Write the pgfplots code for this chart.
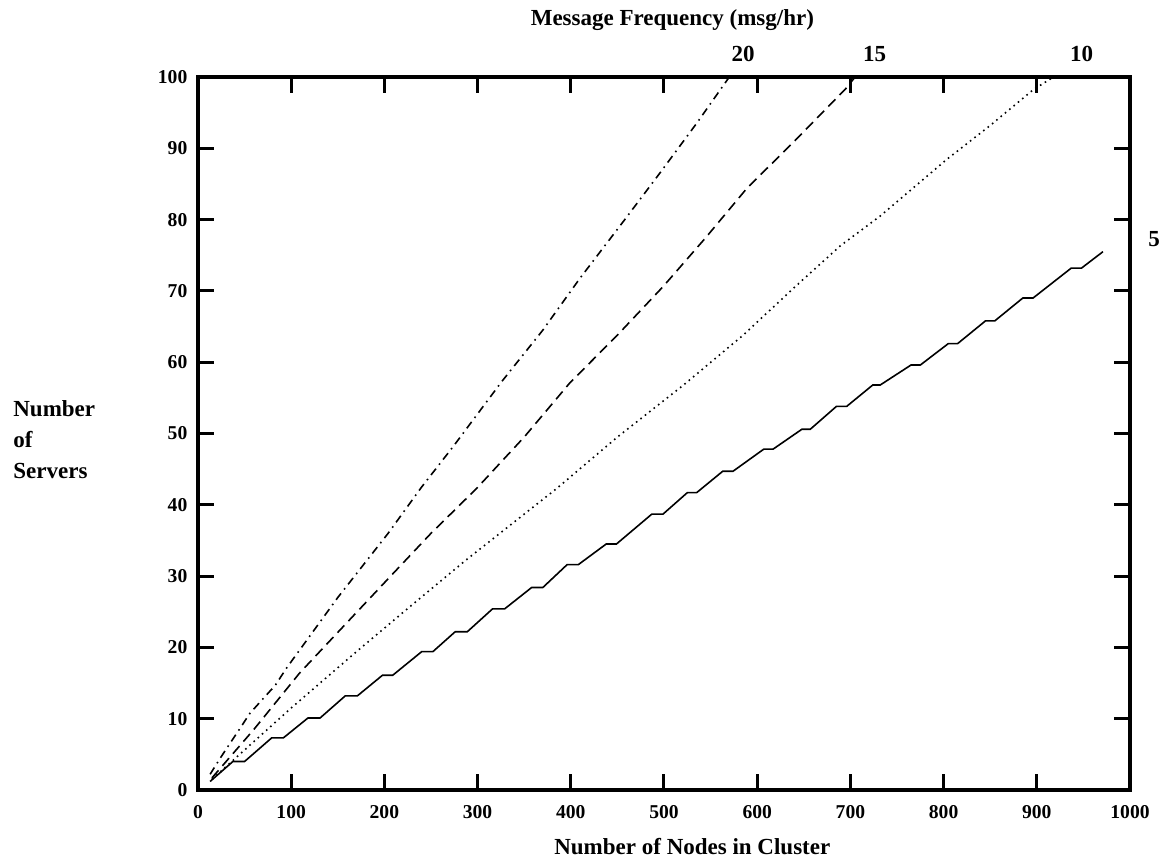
\documentclass[border=0pt]{standalone}
\usepackage{pgfplots}
\pgfplotsset{compat=1.18}
\usepackage{fontspec}
\setmainfont{Liberation Serif}
\begin{document}
\begin{tikzpicture}
\begin{axis}[
  at={(0,0)}, anchor=south west,
  scale only axis, width=466pt, height=356.5pt,
  xmin=0, xmax=1000, ymin=0, ymax=100,
  xtick={0,100,...,1000}, ytick={0,10,...,100},
  xtick pos=both, ytick pos=both,
  xticklabel pos=lower, yticklabel pos=left,
  tick align=inside, major tick length=8pt,
  axis line style={line width=2pt},
  every tick/.style={line width=1.5pt, black},
  /pgf/number format/assume math mode=true,
  /pgf/number format/1000 sep={},
  ticklabel style={font=\bfseries\fontsize{9.8}{11}\selectfont},
  xticklabel style={yshift=-4.3pt},
  yticklabel style={xshift=-1.8pt},
  clip=false,
]
% 20 msg/hr
\addplot[black, line width=0.8pt, dash pattern=on 4pt off 2.5pt on 0.8pt off 2.5pt] coordinates {
(13,2.2)(24,4.5)(56,10.8)(83,14.7)(95,17.1)(150,27)(204,36)(240,42.5)(274,48.2)(326,57.3)(370,64.5)(410,71.8)(455,79.5)(496,86.6)(535,93.5)(569,99.8)};
% 15 msg/hr
\addplot[black, line width=0.8pt, dash pattern=on 5pt off 3pt] coordinates {
(15,1.7)(60,8.5)(109,16.4)(160,23.5)(206,29.9)(250,36)(299,42.3)(350,49.5)(399,57.1)(450,63.8)(499,70.6)(545,77.5)(589,84.4)(640,91)(696,98.5)(705,100)};
% 10 msg/hr
\addplot[black, line width=0.8pt, dash pattern=on 0.8pt off 2pt] coordinates {
(15,1.5)(100,11.5)(170,19.4)(230,26)(288,32.3)(385,42.3)(450,49.5)(521,56.8)(585,63.8)(640,70.5)(689,76.3)(732,80.5)(803,88.4)(850,93.2)(896,98.2)(918,100)};
% 5 msg/hr
\addplot[black, line width=0.8pt] coordinates {
(13,1.2)(37.5,4.0)(50,4.0)(79,7.3)(91.5,7.3)(118,10.1)(131,10.1)(158,13.2)(171,13.2)(198,16.1)(209,16.1)(240,19.4)(252,19.4)(276,22.2)(289,22.2)(316,25.4)(329,25.4)(358,28.4)(370,28.4)(396,31.6)(408,31.6)(438,34.5)(449,34.5)(487,38.7)(499,38.7)(525,41.7)(535,41.7)(563,44.7)(574,44.7)(607,47.8)(617,47.8)(648,50.6)(657,50.6)(685,53.8)(696,53.8)(724,56.8)(732,56.8)(765,59.6)(775,59.6)(805,62.6)(815,62.6)(845,65.8)(855,65.8)(885,69)(896,69)(937,73.2)(948,73.2)(971,75.5)};

\node[font=\bfseries\fontsize{11.5}{13}\selectfont] at (axis cs:509,108) {Message Frequency (msg/hr)};
\node[font=\bfseries\fontsize{11.5}{13}\selectfont] at (axis cs:585,103.2) {20};
\node[font=\bfseries\fontsize{11.5}{13}\selectfont] at (axis cs:726,103.2) {15};
\node[font=\bfseries\fontsize{11.5}{13}\selectfont] at (axis cs:948,103.2) {10};
\node[font=\bfseries\fontsize{11.5}{13}\selectfont] at (axis cs:1026,77.2) {5};
\node[font=\bfseries\fontsize{11.5}{13}\selectfont] at (axis cs:530.4,-7.9) {Number of Nodes in Cluster};
\node[font=\bfseries\fontsize{11.5}{15.5}\selectfont, anchor=west, align=left, inner sep=0pt] at (axis cs:-198.5,49.1) {Number\\of\\Servers};
\end{axis}
\pgfresetboundingbox
\path[use as bounding box] (-99pt,-35.5pt) rectangle (482.5pt,395pt);
\end{tikzpicture}
\end{document}
